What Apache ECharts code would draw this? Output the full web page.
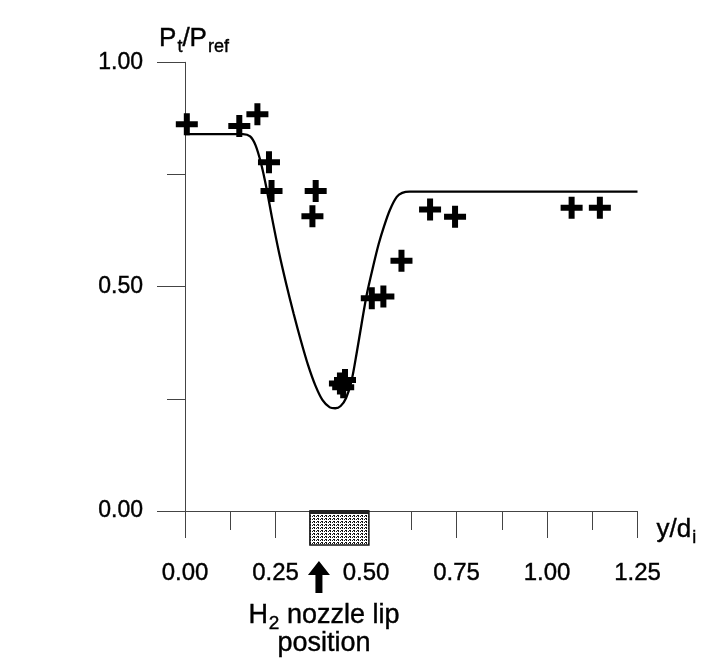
<!DOCTYPE html>
<html><head><meta charset="utf-8">
<script src="https://cdn.jsdelivr.net/npm/echarts@6/dist/echarts.min.js"></script>
<style>html,body{margin:0;padding:0;background:#fff}#c{width:704px;height:667px}</style>
</head><body><div id="c"></div>
<script>
// ---- data ----
const xTickLabels = ['0.00', '0.25', '0.50', '0.75', '1.00', '1.25'];
const yTickLabels = ['0.00', '0.50', '1.00'];
const measuredX = [0.005, 0.15, 0.20, 0.232, 0.239, 0.361, 0.352, 0.428, 0.442, 0.437, 0.516, 0.548, 0.598, 0.677, 0.746, 1.068, 1.146];
const measuredY = [0.862, 0.858, 0.884, 0.777, 0.713, 0.713, 0.657, 0.284, 0.292, 0.276, 0.474, 0.478, 0.558, 0.672, 0.656, 0.676, 0.676];
const curveX = [0, 0.16, 0.18, 0.195, 0.21, 0.225, 0.24, 0.26, 0.28, 0.30, 0.32, 0.34, 0.36, 0.38, 0.40, 0.415, 0.43, 0.445, 0.46, 0.474, 0.488, 0.502, 0.52, 0.535, 0.55, 0.566, 0.585, 0.60, 0.62, 1.25];
const curveY = [0.84, 0.84, 0.835, 0.815, 0.775, 0.72, 0.655, 0.575, 0.505, 0.44, 0.38, 0.325, 0.28, 0.247, 0.231, 0.229, 0.234, 0.252, 0.29, 0.351, 0.418, 0.482, 0.546, 0.595, 0.635, 0.671, 0.70, 0.709, 0.712, 0.712];
const nozzleLip = [0.345, 0.508];
const arrowX = 0.37;

const FONT = 'Liberation Sans, Arial, sans-serif';
const INK = '#000';
const AX = '#444';
const heavy = { textBorderColor: '#000', textBorderWidth: 0.4 };
const heavyRaw = { stroke: '#000', lineWidth: 0.4 };

// dotted texture for the nozzle lip block
const pc = document.createElement('canvas');
pc.width = 4; pc.height = 3;
const g = pc.getContext('2d');
g.fillStyle = '#fff'; g.fillRect(0, 0, 4, 3);
g.fillStyle = '#111';
g.fillRect(0, 0, 1, 1); g.fillRect(2, 0, 1, 1);
g.fillRect(1, 2, 2, 1);

function tickLabel(list) {
  return v => {
    const m = list.find(l => Math.abs(parseFloat(l) - v) < 1e-6);
    return m === undefined ? '' : m;
  };
}

const chart = echarts.init(document.getElementById('c'));
chart.setOption({
  animation: false,
  backgroundColor: '#fff',
  grid: { left: 185, right: 66.5, top: 62.3, bottom: 156, outerBoundsMode: 'none' },
  xAxis: {
    type: 'value', min: 0, max: 1.25, interval: 0.25,
    axisLine: { show: true, onZero: false, lineStyle: { color: AX, width: 1 } },
    axisTick: { show: true, length: 27, lineStyle: { color: AX, width: 1 } },
    minorTick: { show: true, splitNumber: 2, length: 19, lineStyle: { color: AX, width: 1 } },
    splitLine: { show: false },
    axisLabel: Object.assign({ margin: 50, fontSize: 24, color: INK, fontFamily: FONT, formatter: tickLabel(xTickLabels) }, heavy),
    name: '{a|y/d}{s|i}',
    nameLocation: 'end', nameGap: 19,
    nameTextStyle: {
      verticalAlign: 'top', padding: [6, 0, 0, 0],
      rich: {
        a: Object.assign({ fontSize: 26, color: INK, fontFamily: FONT, verticalAlign: 'top' }, heavy),
        s: Object.assign({ fontSize: 18, color: INK, fontFamily: FONT, verticalAlign: 'top', padding: [12, 0, 0, 1] }, heavy)
      }
    }
  },
  yAxis: {
    type: 'value', min: 0, max: 1, interval: 0.5,
    axisLine: { show: true, lineStyle: { color: AX, width: 1 } },
    axisTick: { show: true, length: 28, lineStyle: { color: AX, width: 1 } },
    minorTick: { show: true, splitNumber: 2, length: 18, lineStyle: { color: AX, width: 1 } },
    splitLine: { show: false },
    axisLabel: Object.assign({ margin: 42, fontSize: 23, color: INK, fontFamily: FONT, formatter: tickLabel(yTickLabels) }, heavy),
    name: '{b|P}{s|t}{b|/P}{s|ref}',
    nameLocation: 'end', nameGap: 6,
    nameTextStyle: {
      align: 'center', padding: [0, 0, 0, 18],
      rich: {
        b: Object.assign({ fontSize: 26, color: INK, fontFamily: FONT, verticalAlign: 'top' }, heavy),
        s: Object.assign({ fontSize: 18, color: INK, fontFamily: FONT, verticalAlign: 'top', padding: [12, 0, 0, 1] }, heavy)
      }
    }
  },
  series: [
    {
      type: 'line',
      data: curveX.map((x, i) => [x, curveY[i]]),
      showSymbol: false, symbol: 'none',
      smooth: 0.3,
      lineStyle: { color: '#000', width: 2.3 },
      z: 2
    },
    {
      type: 'scatter',
      data: measuredX.map((x, i) => [x, measuredY[i]]),
      symbol: 'path://M8,0H14V8H22V14H14V22H8V14H0V8H8Z',
      symbolSize: 22,
      itemStyle: { color: '#000', opacity: 1 },
      z: 3
    },
    {
      type: 'custom',
      clip: false,
      silent: true,
      data: [[nozzleLip[0], 0]],
      renderItem: (params, api) => {
        const p0 = api.coord([nozzleLip[0], 0]);
        const p1 = api.coord([nozzleLip[1], 0]);
        const pa = api.coord([arrowX, 0]);
        const ax = pa[0], ay = pa[1];
        return {
          type: 'group',
          children: [
            { type: 'rect', shape: { x: p0[0], y: p0[1], width: p1[0] - p0[0], height: 34 },
              style: { fill: { type: 'pattern', image: pc, repeat: 'repeat' }, stroke: '#111', lineWidth: 1.5 } },
            { type: 'rect', shape: { x: p0[0], y: p0[1] - 1, width: p1[0] - p0[0], height: 4 },
              style: { fill: '#222' } },
            { type: 'polygon',
              shape: { points: [[ax, ay + 50], [ax - 11, ay + 64], [ax - 3.5, ay + 64], [ax - 3.5, ay + 82],
                                [ax + 3.5, ay + 82], [ax + 3.5, ay + 64], [ax + 11, ay + 64]] },
              style: { fill: '#000' } },
            { type: 'text', x: ax + 5, y: ay + 91,
              style: {
                text: '{n|H}{s|2}{n| nozzle lip}\n{n|position}',
                align: 'center', verticalAlign: 'top',
                rich: {
                  n: Object.assign({ fontSize: 27, fill: INK, fontFamily: FONT, lineHeight: 28, verticalAlign: 'top' }, heavyRaw),
                  s: Object.assign({ fontSize: 19, fill: INK, fontFamily: FONT, lineHeight: 26, verticalAlign: 'top', padding: [12, 0, 0, 1] }, heavyRaw)
                }
              } }
          ]
        };
      },
      z: 4
    }
  ]
});
</script>
</body></html>
